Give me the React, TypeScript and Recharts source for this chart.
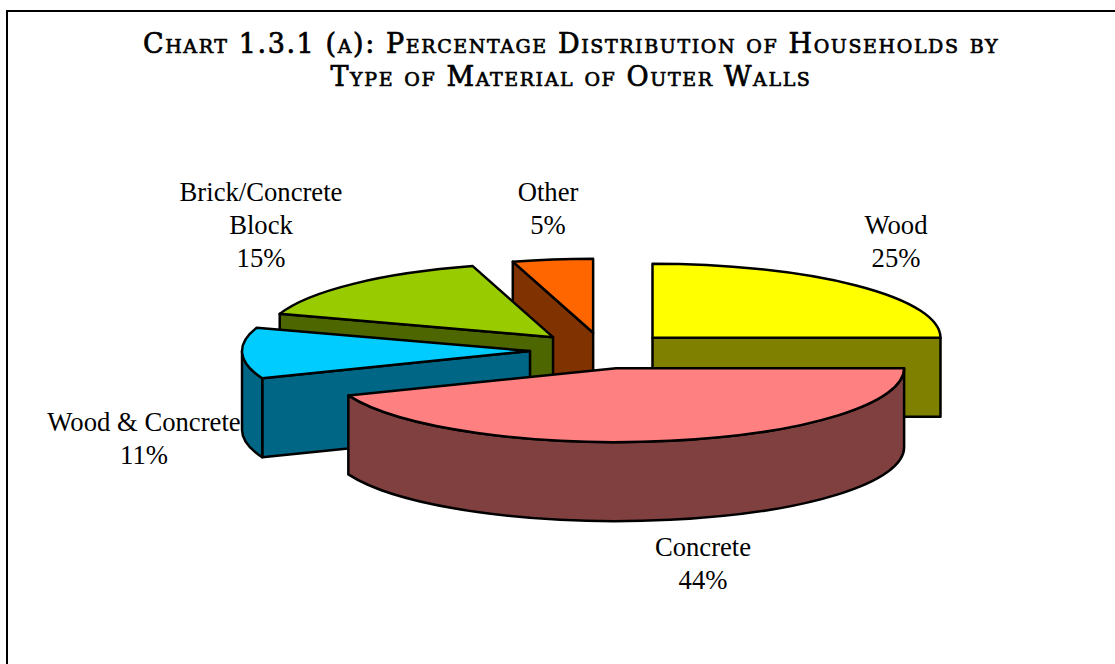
import React from "react";
import { PieChart, Pie } from "recharts";

const TITLE_LINES = [
  "Chart 1.3.1 (a): Percentage Distribution of Households by",
  "Type of Material of Outer Walls",
];

// listed counter-clockwise from 3 o'clock so that the front slices paint last
const names = ["Wood", "Other", "Brick/Concrete Block", "Wood & Concrete", "Concrete"];
const shares = [25, 4.5, 15.4, 11.1, 44];
const topColors = ["#ffff00", "#ff6600", "#99cc00", "#00ccff", "#ff8080"];
const wallColors = ["#808000", "#803300", "#4d6600", "#006685", "#804040"];
const labelLines = [["Wood"], ["Other"], ["Brick/Concrete", "Block"], ["Wood & Concrete"], ["Concrete"]];
const explodeBy = [70, 70, 72, 73, 70];

const labelCenters: Record<string, [number, number]> = {
  Wood: [896, 234],
  Other: [548, 201],
  "Brick/Concrete Block": [261, 201],
  "Wood & Concrete": [144, 431],
  Concrete: [703, 556],
};

const rows = names.map((name, i) => ({
  name,
  value: shares[i],
  fill: topColors[i],
  wall: wallColors[i],
  lines: labelLines[i],
  explode: explodeBy[i],
}));

const WIDTH = 1115;
const HEIGHT = 664;
const SQUASH = 74 / 288;
const DEPTH = 79;
const RAD = Math.PI / 180;

function Slice3D(props: any) {
  const { cx, cy, outerRadius: r, startAngle, endAngle, fill, wall, explode } = props;
  const a0 = Math.min(startAngle, endAngle);
  const a1 = Math.max(startAngle, endAngle);
  const mid = ((a0 + a1) / 2) * RAD;
  const ox = cx + explode * Math.cos(mid);
  const oy = cy - explode * Math.sin(mid) * SQUASH;
  const pt = (a: number, drop = 0) => [
    ox + r * Math.cos(a * RAD),
    oy - r * Math.sin(a * RAD) * SQUASH + drop,
  ];
  const arc = (from: number, to: number, drop: number, sweep: number) => {
    const [x, y] = pt(to, drop);
    const large = Math.abs(to - from) > 180 ? 1 : 0;
    return `A${r} ${r * SQUASH} 0 ${large} ${sweep} ${x} ${y}`;
  };
  const face = (a: number) => {
    const [x, y] = pt(a);
    return `M${ox} ${oy}L${x} ${y}L${x} ${y + DEPTH}L${ox} ${oy + DEPTH}Z`;
  };
  const stroke = { stroke: "#000", strokeWidth: 2.5, strokeLinejoin: "round" as const };

  const faces: string[] = [];
  if (Math.cos(a0 * RAD) > 0.001) faces.push(face(a0));
  if (Math.cos(a1 * RAD) < -0.001) faces.push(face(a1));

  // outer rim is only seen on the near half of the ellipse
  const rimFrom = Math.max(a0, 180);
  const rimTo = Math.min(a1, 360);
  let rim = "";
  if (rimTo > rimFrom) {
    const [x0, y0] = pt(rimFrom);
    const [x1, y1] = pt(rimTo);
    rim =
      `M${x0} ${y0}` +
      arc(rimFrom, rimTo, 0, 0) +
      `L${x1} ${y1 + DEPTH}` +
      arc(rimTo, rimFrom, DEPTH, 1) +
      "Z";
  }

  const [sx, sy] = pt(a0);
  const top = `M${ox} ${oy}L${sx} ${sy}` + arc(a0, a1, 0, 0) + "Z";

  return (
    <g>
      {faces.map((d, i) => (
        <path key={i} d={d} fill={wall} {...stroke} />
      ))}
      {rim && <path d={rim} fill={wall} {...stroke} />}
      <path d={top} fill={fill} {...stroke} />
    </g>
  );
}

function renderLabel(props: any) {
  const { name, value, lines } = props;
  const [x, y] = labelCenters[name];
  const all = [...lines, `${Math.round(value)}%`];
  return (
    <text
      key={name}
      x={x}
      y={y}
      textAnchor="middle"
      fontFamily="'Liberation Serif', serif"
      fontSize={26.67}
      fill="#000"
    >
      {all.map((t: string, i: number) => (
        <tspan key={i} x={x} dy={i === 0 ? 0 : 33}>
          {t}
        </tspan>
      ))}
    </text>
  );
}

export default function App() {
  return (
    <div style={{ position: "absolute", left: 0, top: 0, width: WIDTH, height: HEIGHT, background: "#fff", overflow: "hidden" }}>
      <div
        style={{
          position: "absolute",
          left: 6,
          top: 10,
          width: WIDTH,
          height: HEIGHT,
          borderLeft: "2px solid #000",
          borderTop: "2px solid #000",
        }}
      />
      <div
        style={{
          position: "absolute",
          left: 0,
          top: 27,
          width: 1142,
          textAlign: "center",
          fontFamily: "'DejaVu Serif', serif",
          fontVariant: "small-caps",
          fontSize: 27,
          lineHeight: "33px",
          letterSpacing: 1.6,
          WebkitTextStroke: "0.7px #000",
          color: "#000",
        }}
      >
        {TITLE_LINES.map((line) => (
          <div key={line} style={{ whiteSpace: "nowrap" }}>
            {line}
          </div>
        ))}
      </div>
      <div style={{ position: "absolute", left: 0, top: 0 }}>
        <PieChart width={WIDTH} height={HEIGHT} margin={{ top: 0, right: 0, bottom: 0, left: 0 }}>
          <Pie
            data={rows}
            dataKey="value"
            nameKey="name"
            cx={603}
            cy={350.5}
            innerRadius={0}
            outerRadius={288}
            startAngle={0}
            endAngle={360}
            paddingAngle={0}
            shape={Slice3D}
            label={renderLabel}
            labelLine={false}
            isAnimationActive={false}
          />
        </PieChart>
      </div>
    </div>
  );
}
